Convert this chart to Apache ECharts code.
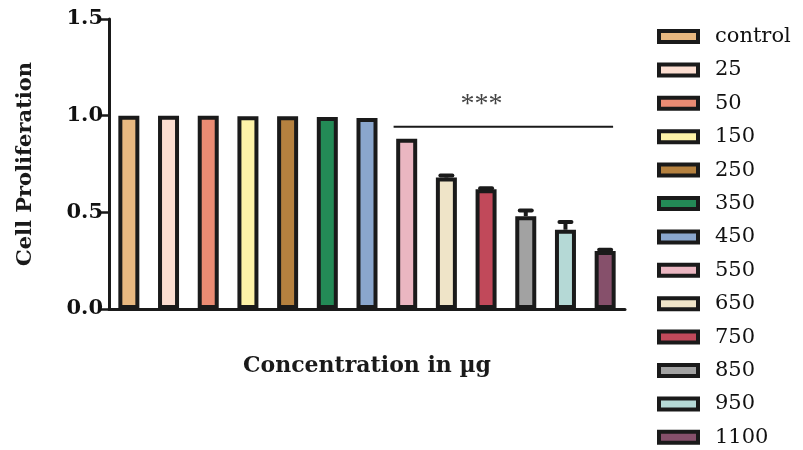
<!DOCTYPE html>
<html>
<head>
<meta charset="utf-8">
<script src="https://cdn.jsdelivr.net/npm/echarts@6/dist/echarts.min.js"></script>
<style>
  html, body { margin: 0; padding: 0; background: #fff; }
  #main { width: 803px; height: 450px; }
</style>
</head>
<body>
<div id="main"></div>
<script>
// concentrations (µg) and mean cell proliferation
const groups = ['control', '25', '50', '150', '250', '350', '450', '550', '650', '750', '850', '950', '1100']
const means = [1.0, 1.0, 1.0, 0.997, 0.997, 0.993, 0.988, 0.88, 0.68, 0.62, 0.48, 0.41, 0.30]
const errors = [0, 0, 0, 0, 0, 0, 0, 0, 0.01, 0.004, 0.03, 0.04, 0.006]
const colors = ['#E8B880', '#FBDDD0', '#EA8B73', '#FEF3A8', '#B5813F', '#238A56', '#8AA6CD',
  '#EAB6C1', '#EFE4C8', '#C1495A', '#A2A2A2', '#B5D9D6', '#86506B']
const yTicks = [0, 0.5, 1.0, 1.5]
// significance bar: from group index, to group index, level
const sigFrom = 7
const sigTo = 12
const sigLevel = 0.943
const sigText = '***'

const ink = '#1a1a1a'
const serif = 'DejaVu Serif'

let chartDom = document.getElementById('main')
let myChart = echarts.init(chartDom)

// one series per group so the legend lists every concentration
const barSeries = groups.map((g, i) => ({
  name: g,
  type: 'bar',
  stack: 'all',
  barWidth: 21,
  data: groups.map((_, j) => (j === i ? means[i] : '-')),
  itemStyle: { color: colors[i], borderColor: ink, borderWidth: 4 },
  emphasis: { disabled: true },
  z: 2
}))

const errSeries = {
  type: 'custom',
  name: 'err',
  data: means.map((m, i) => [i, m, errors[i]]).filter(d => d[2] > 0),
  encode: { x: 0, y: 1 },
  z: 3,
  renderItem: (params, api) => {
    const x = api.value(0), v = api.value(1), e = api.value(2)
    const base = api.coord([x, v])
    const top = api.coord([x, v + e])
    return {
      type: 'group',
      children: [
        { type: 'line', shape: { x1: base[0], y1: base[1], x2: top[0], y2: top[1] }, style: { stroke: ink, lineWidth: 4 } },
        { type: 'line', shape: { x1: top[0] - 6, y1: top[1], x2: top[0] + 6, y2: top[1] }, style: { stroke: ink, lineWidth: 4, lineCap: 'round' } }
      ]
    }
  }
}

const sigSeries = {
  type: 'custom',
  name: 'sig',
  data: [[sigFrom, sigTo, sigLevel]],
  encode: { x: [0, 1], y: 2 },
  z: 3,
  renderItem: (params, api) => {
    const bw = api.size([1, 0])[0]
    const a = api.coord([api.value(0), api.value(2)])
    const b = api.coord([api.value(1), api.value(2)])
    const x1 = a[0] - bw * 0.33
    const x2 = b[0] + bw * 0.2
    return {
      type: 'group',
      children: [
        { type: 'line', shape: { x1: x1, y1: a[1], x2: x2, y2: a[1] }, style: { stroke: ink, lineWidth: 2 } },
        {
          type: 'text',
          style: {
            x: x1 + (x2 - x1) * 0.4, y: a[1] - 22, text: sigText,
            fill: '#444', font: '28px "Liberation Serif"', align: 'center', verticalAlign: 'middle'
          }
        }
      ]
    }
  }
}

let option = {
  animation: false,
  backgroundColor: '#fff',
  grid: { left: 109, right: 178, top: 19, bottom: 141 },
  legend: {
    orient: 'vertical',
    left: 657,
    top: 26,
    height: 440,
    padding: 0,
    itemGap: 12.4,
    itemWidth: 39,
    itemHeight: 11,
    icon: 'rect',
    data: groups,
    selectedMode: false,
    itemStyle: { borderColor: ink, borderWidth: 4 },
    textStyle: { fontFamily: serif, fontSize: 21, color: '#111', padding: [0, 0, 0, 12] }
  },
  xAxis: {
    type: 'category',
    data: groups,
    name: 'Concentration in µg',
    nameLocation: 'middle',
    nameGap: 46,
    nameTextStyle: { fontFamily: serif, fontWeight: 'bold', fontSize: 22, color: ink },
    axisLine: { lineStyle: { color: ink, width: 3 } },
    axisTick: { alignWithLabel: true, length: 5, lineStyle: { color: ink, width: 2.5 } },
    axisLabel: { show: false }
  },
  yAxis: {
    type: 'value',
    min: yTicks[0],
    max: yTicks[yTicks.length - 1],
    interval: 0.5,
    name: 'Cell Proliferation',
    nameLocation: 'middle',
    nameGap: 73,
    nameTextStyle: { fontFamily: serif, fontWeight: 'bold', fontSize: 21, color: ink },
    axisLine: { show: true, lineStyle: { color: ink, width: 3 } },
    axisTick: { show: true, length: 8, lineStyle: { color: ink, width: 2.5 } },
    axisLabel: {
      margin: 6,
      fontFamily: serif, fontWeight: 'bold', fontSize: 21, color: '#111',
      formatter: v => v.toFixed(1)
    },
    splitLine: { show: false }
  },
  series: [...barSeries, errSeries, sigSeries]
}

myChart.setOption(option)
</script>
</body>
</html>
